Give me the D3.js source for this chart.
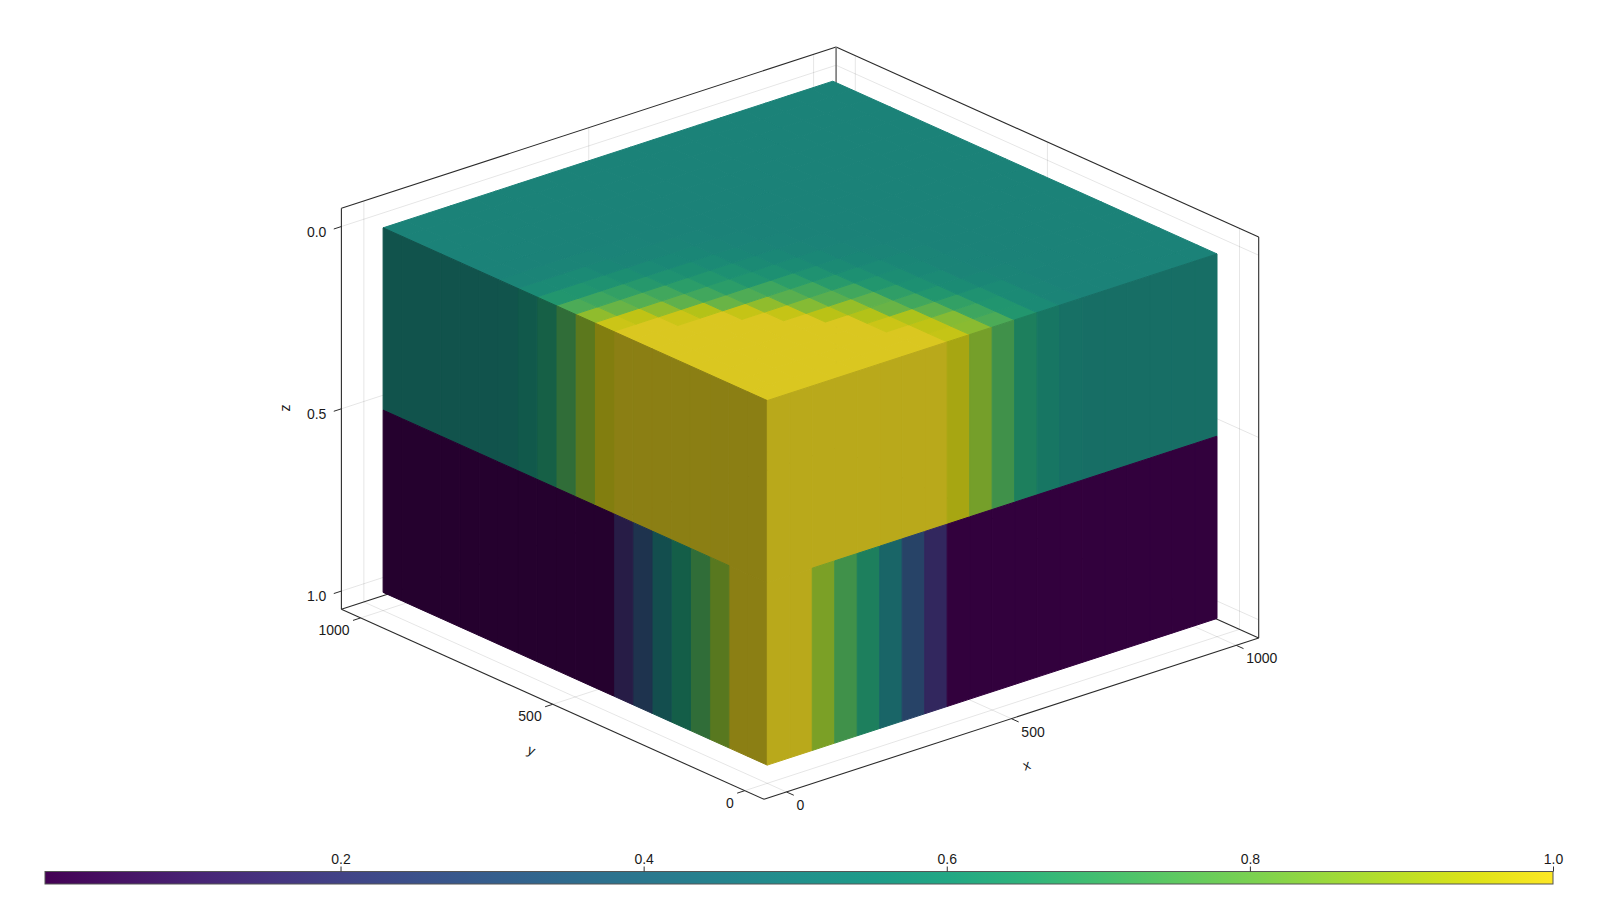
<!DOCTYPE html>
<html><head><meta charset="utf-8">
<style>html,body{margin:0;padding:0;background:#fff}svg{display:block}text{font-family:"Liberation Sans",Arial,sans-serif;fill:#1a1a1a}</style>
<script src="https://cdn.jsdelivr.net/npm/d3@7"></script>
</head><body><svg id="c" width="1600" height="900"></svg>
<script>
const xTicks=[0,500,1000];
const yTicks=[0,500,1000];
const zTicks=[0,0.5,1];
const cbTicks=[0.2,0.4,0.6,0.8,1.0];
const colorRange=[0.005,1];
const cellEdges=[0,50,100,150,200,250,300,350,400,450,500,550,600,650,700,750,800,850,900,950,1000];
const layerEdges=[0,0.5,1];
// top layer, rows = y cells, columns = x cells
const topLayer=[
[1,1,1,1,1,1,1,1,.96,.86,.74,.63,.57,.54,.53,.53,.53,.53,.53,.53],
[1,1,1,1,1,1,1,1,.95,.85,.71,.62,.57,.545,.53,.53,.53,.53,.53,.53],
[1,1,1,1,1,1,1,.97,.92,.78,.68,.61,.565,.545,.53,.53,.53,.53,.53,.53],
[1,1,1,1,1,1,1,.93,.80,.72,.63,.58,.55,.54,.535,.53,.53,.53,.53,.53],
[1,1,1,1,1,1,.94,.88,.78,.67,.60,.565,.545,.535,.53,.53,.53,.53,.53,.53],
[1,1,1,1,1,.96,.85,.77,.72,.63,.585,.555,.54,.535,.53,.53,.53,.53,.53,.53],
[1,1,1,1,.96,.87,.77,.72,.65,.60,.565,.55,.54,.53,.53,.53,.53,.53,.53,.53],
[1,1,.97,.93,.80,.75,.71,.66,.61,.575,.55,.54,.535,.53,.53,.53,.53,.53,.53,.53],
[.97,.95,.87,.78,.72,.66,.62,.60,.58,.555,.545,.535,.53,.53,.53,.53,.53,.53,.53,.53],
[.87,.80,.76,.72,.66,.63,.60,.575,.555,.54,.535,.53,.53,.53,.53,.53,.53,.53,.53,.53],
[.74,.71,.68,.64,.61,.59,.565,.55,.545,.535,.53,.53,.53,.53,.53,.53,.53,.53,.53,.53],
[.63,.62,.61,.59,.57,.555,.55,.54,.535,.53,.53,.53,.53,.53,.53,.53,.53,.53,.53,.53],
[.57,.57,.565,.55,.545,.54,.54,.535,.53,.53,.53,.53,.53,.53,.53,.53,.53,.53,.53,.53],
[.54,.54,.54,.54,.535,.535,.53,.53,.53,.53,.53,.53,.53,.53,.53,.53,.53,.53,.53,.53],
[.53,.53,.53,.53,.53,.53,.53,.53,.53,.53,.53,.53,.53,.53,.53,.53,.53,.53,.53,.53],
[.53,.53,.53,.53,.53,.53,.53,.53,.53,.53,.53,.53,.53,.53,.53,.53,.53,.53,.53,.53],
[.53,.53,.53,.53,.53,.53,.53,.53,.53,.53,.53,.53,.53,.53,.53,.53,.53,.53,.53,.53],
[.53,.53,.53,.53,.53,.53,.53,.53,.53,.53,.53,.53,.53,.53,.53,.53,.53,.53,.53,.53],
[.53,.53,.53,.53,.53,.53,.53,.53,.53,.53,.53,.53,.53,.53,.53,.53,.53,.53,.53,.53],
[.53,.53,.53,.53,.53,.53,.53,.53,.53,.53,.53,.53,.53,.53,.53,.53,.53,.53,.53,.53]];
// lower layer along the two visible sides
const lowerAlongX=[1,1,.87,.74,.63,.48,.29,.16,.005,.005,.005,.005,.005,.005,.005,.005,.005,.005,.005,.005];
const lowerAlongY=[1,1,.86,.74,.61,.49,.29,.15,.005,.005,.005,.005,.005,.005,.005,.005,.005,.005,.005,.005];

// orthographic projection
const origin=[764,799.3], ux=[494.7,-161.3], uy=[-422.6,-190], uzLen=401;
const sx=d3.scaleLinear().domain([-50,1050]).range([0,1]);
const sy=d3.scaleLinear().domain([-50,1050]).range([0,1]);
const sz=d3.scaleLinear().domain([1.05,-0.05]).range([0,1]);
const P=(x,y,z)=>{const a=sx(x),b=sy(y),c=sz(z);
  return [origin[0]+a*ux[0]+b*uy[0], origin[1]+a*ux[1]+b*uy[1]-c*uzLen];};
const color=d3.scaleSequential(d3.interpolateViridis).domain(colorRange);
const shade=(v,f)=>{const c=d3.rgb(color(v));return d3.rgb(c.r*f,c.g*f,c.b*f).formatHex();};
const svg=d3.select('#c');
const line=d3.line();
const xMin=-50,xMax=1050,yMin=-50,yMax=1050,zTop=-0.05,zBot=1.05;
const seg=(g,a,b,col,w)=>g.append('path').attr('d',line([a,b])).attr('stroke',col).attr('stroke-width',w).attr('fill','none');

// grid
const grid=svg.append('g');
const gc='rgba(0,0,0,0.10)';
xTicks.forEach(t=>{seg(grid,P(t,yMin,zBot),P(t,yMax,zBot),gc,1);seg(grid,P(t,yMax,zBot),P(t,yMax,zTop),gc,1);});
yTicks.forEach(t=>{seg(grid,P(xMin,t,zBot),P(xMax,t,zBot),gc,1);seg(grid,P(xMax,t,zBot),P(xMax,t,zTop),gc,1);});
zTicks.forEach(t=>{seg(grid,P(xMin,yMax,t),P(xMax,yMax,t),gc,1);seg(grid,P(xMax,yMax,t),P(xMax,yMin,t),gc,1);});

// back spines
const dark='#2b2b2b';
const back=svg.append('g');
seg(back,P(xMin,yMax,zTop),P(xMax,yMax,zTop),dark,1.1);
seg(back,P(xMax,yMax,zTop),P(xMax,yMin,zTop),dark,1.1);
seg(back,P(xMin,yMax,zBot),P(xMax,yMax,zBot),dark,1.1);
seg(back,P(xMax,yMax,zBot),P(xMax,yMin,zBot),dark,1.1);
seg(back,P(xMax,yMax,zTop),P(xMax,yMax,zBot),'#777',1.6);
seg(back,P(xMin,yMax,zTop),P(xMin,yMax,zBot),dark,1.1);
seg(back,P(xMax,yMin,zTop),P(xMax,yMin,zBot),dark,1.1);
seg(back,P(xMin,yMin,zBot),P(xMin,yMax,zBot),dark,1.1);
seg(back,P(xMin,yMin,zBot),P(xMax,yMin,zBot),dark,1.1);

// cube faces
const faces=[];
const F_TOP=0.86,F_LEFT=0.55,F_RIGHT=0.73;
topLayer.forEach((row,j)=>row.forEach((v,i)=>{
  const x0=cellEdges[i],x1=cellEdges[i+1],y0=cellEdges[j],y1=cellEdges[j+1];
  faces.push({fill:shade(v,F_TOP),pts:[P(x0,y0,0),P(x1,y0,0),P(x1,y1,0),P(x0,y1,0)]});
}));
cellEdges.slice(0,-1).forEach((e,k)=>{
  const e1=cellEdges[k+1];
  [[topLayer[k][0],layerEdges[0],layerEdges[1]],[lowerAlongY[k],layerEdges[1],layerEdges[2]]].forEach(([v,z0,z1])=>
    faces.push({fill:shade(v,F_LEFT),pts:[P(0,e,z0),P(0,e1,z0),P(0,e1,z1),P(0,e,z1)]}));
  [[topLayer[0][k],layerEdges[0],layerEdges[1]],[lowerAlongX[k],layerEdges[1],layerEdges[2]]].forEach(([v,z0,z1])=>
    faces.push({fill:shade(v,F_RIGHT),pts:[P(e,0,z0),P(e1,0,z0),P(e1,0,z1),P(e,0,z1)]}));
});
svg.append('g').selectAll('path').data(faces).join('path')
  .attr('d',d=>line(d.pts)+'Z').attr('fill',d=>d.fill).attr('stroke',d=>d.fill).attr('stroke-width',1).attr('stroke-linejoin','round');

// front spines, ticks and labels
const front=svg.append('g');
const tl=8;
const norm=v=>{const n=Math.hypot(v[0],v[1]);return [v[0]/n,v[1]/n];};
const dx=norm(ux),dy=norm(uy);
const fs=14;
const label=(x,y,txt,anchor)=>front.append('text').attr('x',x).attr('y',y).attr('text-anchor',anchor).attr('dominant-baseline','central').attr('font-size',fs).text(txt);
xTicks.forEach(t=>{const p=P(t,yMin,zBot);seg(front,p,[p[0]-dy[0]*tl,p[1]-dy[1]*tl],dark,1);label(p[0]+10,p[1]+13,d3.format('d')(t),'start');});
yTicks.forEach(t=>{const p=P(xMin,t,zBot);seg(front,p,[p[0]-dx[0]*tl,p[1]-dx[1]*tl],dark,1);label(p[0]-11,p[1]+12,d3.format('d')(t),'end');});
zTicks.forEach(t=>{const p=P(xMin,yMax,t);seg(front,p,[p[0]-dx[0]*tl,p[1]-dx[1]*tl],dark,1);label(p[0]-15,p[1]+5,d3.format('.1f')(t),'end');});
const axLabel=(x,y,rot,txt)=>front.append('text').attr('transform',`translate(${x},${y}) rotate(${rot})`).attr('text-anchor','middle').attr('dominant-baseline','central').attr('font-size',fs).text(txt);
axLabel(1026.5,765,-18,'x');
axLabel(531.5,750,24,'y');
axLabel(284.5,408,-90,'z');

// colorbar
const defs=svg.append('defs');
const grad=defs.append('linearGradient').attr('id','vir');
d3.range(0,1.0001,0.05).forEach(t=>grad.append('stop').attr('offset',t).attr('stop-color',d3.interpolateViridis(t)));
const cb=d3.scaleLinear().domain(colorRange).range([45,1553]);
svg.append('rect').attr('x',45).attr('y',871.5).attr('width',1508).attr('height',12.5).attr('fill','url(#vir)').attr('stroke','#555').attr('stroke-width',1);
const ag=svg.append('g').attr('transform','translate(0,871.5)').call(d3.axisTop(cb).tickValues(cbTicks).tickFormat(d3.format('.1f')).tickSize(5).tickPadding(3));
ag.select('.domain').remove();
ag.selectAll('line').attr('stroke','#333');
ag.selectAll('text').attr('font-size',14).attr('font-family','"Liberation Sans"').attr('fill','#1a1a1a');
</script></body></html>
